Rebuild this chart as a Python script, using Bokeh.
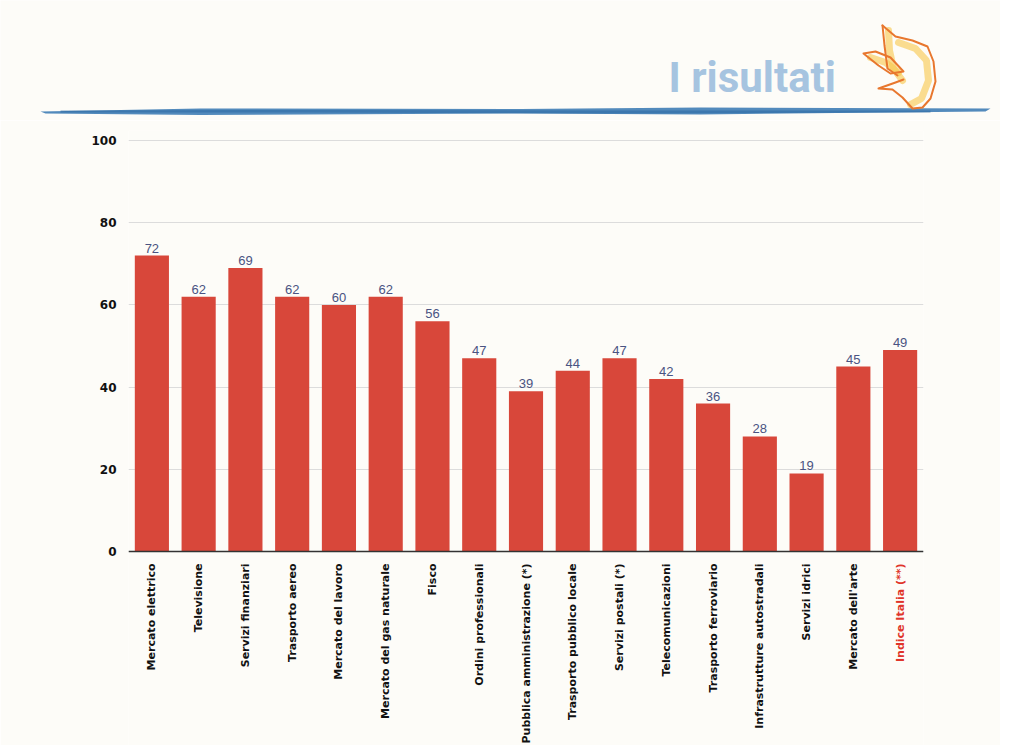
import math
from bokeh.plotting import figure
from bokeh.layouts import column
from bokeh.models import ColumnDataSource, LabelSet, Range1d, FactorRange, Span
from bokeh.core.properties import value
from bokeh.embed import file_html
from bokeh.resources import INLINE

categories = ["Mercato elettrico", "Televisione", "Servizi finanziari", "Trasporto aereo",
              "Mercato del lavoro", "Mercato del gas naturale", "Fisco", "Ordini professionali",
              "Pubblica amministrazione (*)", "Trasporto pubblico locale", "Servizi postali (*)",
              "Telecomunicazioni", "Trasporto ferroviario", "Infrastrutture autostradali",
              "Servizi idrici", "Mercato dell'arte", "Indice Italia (**)"]
values = [72, 62, 69, 62, 60, 62, 56, 47, 39, 44, 47, 42, 36, 28, 19, 45, 49]
label_colors = ["#111111"] * 16 + ["#e0342a"]
y_ticks = [0, 20, 40, 60, 80, 100]
title_text = "I risultati"

BG = "#fdfcf8"
W = 1000
HEAD_H = 120          # header strip (title, brush stroke, icon)
MAIN_H = 625          # chart
LEFT, FW = 128, 795
PPU = 4.11            # pixels per unit
TOP_PAD = 10          # pixels between frame top and the 100 line
Y0_PAGE = 551 - HEAD_H  # y of value 0 inside the chart canvas
YMAX = 100 + TOP_PAD / PPU
FRAME_TOP = Y0_PAGE - round(100 * PPU) - TOP_PAD
YMIN = -(MAIN_H - Y0_PAGE) / PPU

# ---------------- header ----------------
h = figure(width=W, height=HEAD_H, x_range=Range1d(0, W), y_range=Range1d(HEAD_H, 0),
           output_backend="svg", toolbar_location=None, min_border=0,
           x_axis_type=None, y_axis_type=None)
h.frame_align = False
h.background_fill_color = BG
h.border_fill_color = BG
h.outline_line_color = None
h.grid.visible = False

h.text(x=[668], y=[77], text=[title_text],
       text_font=value("Roboto"),
       text_font_style="bold", text_font_size="42px", text_color="#a6c4e0",
       text_baseline="middle", text_align="left")
# brush stroke
h.patch(x=[40, 200, 520, 700, 990, 985, 700, 520, 200, 45],
        y=[111, 108, 108.5, 107, 108, 111, 114, 113, 114.5, 113],
        fill_color="#3f7db5", fill_alpha=0.9, line_color=None)
h.patch(x=[60, 300, 600, 930, 930, 600, 300, 60],
        y=[110, 109.5, 110, 110, 112, 113, 112, 112],
        fill_color="#2f6aa3", fill_alpha=0.6, line_color=None)
# flame / dove icon: yellow wash, then orange outline strokes
h.multi_line(xs=[[888, 889, 893, 902], [898, 915, 926, 928, 921, 910], [870, 885, 898]],
             ys=[[30, 50, 68, 80], [42, 48, 60, 80, 98, 104], [57, 62, 72]],
             line_color="#f8c64a", line_alpha=0.6, line_width=7, line_cap="round")
h.multi_line(
    xs=[[882, 895, 912, 927, 933, 935, 930, 922, 912, 902, 892, 878, 895, 903],
        [882, 884, 887, 897],
        [903, 890, 875, 863, 878, 890, 903]],
    ys=[[25, 36, 40, 46, 61, 81, 98, 107, 108, 97, 89, 88, 82, 79],
        [25, 45, 68, 75],
        [71, 57, 51, 53, 65, 73, 71]],
    line_color="#e8772e", line_width=2, line_join="round", line_cap="round")

# ---------------- chart ----------------
p = figure(x_range=FactorRange(*categories), y_range=Range1d(YMIN, YMAX),
           width=W, height=MAIN_H, output_backend="svg", toolbar_location=None,
           min_border_left=LEFT, min_border_top=FRAME_TOP,
           min_border_right=W - LEFT - FW, min_border_bottom=0)
p.frame_align = False
p.background_fill_color = BG
p.border_fill_color = BG
p.outline_line_color = None

src = ColumnDataSource(dict(cat=categories, val=values, txt=[str(v) for v in values],
                            lc=label_colors))
p.vbar(x="cat", top="val", bottom=0, width=0.73, source=src,
       fill_color="#d8473a", line_color=None)

p.xaxis.visible = False
p.xgrid.grid_line_color = None
p.ygrid.grid_line_color = "#dcdcdc"
p.ygrid.grid_line_width = 1
p.yaxis.ticker = y_ticks
p.yaxis.axis_line_color = None
p.yaxis.major_tick_line_color = None
p.yaxis.minor_tick_line_color = None
p.yaxis.major_label_text_font = "DejaVu Sans"
p.yaxis.major_label_text_font_style = "bold"
p.yaxis.major_label_text_font_size = "12px"
p.yaxis.major_label_text_color = "#111111"
p.yaxis.major_label_standoff = 6

# baseline (x axis line)
p.add_layout(Span(location=0, dimension="width", line_color="#333333", line_width=1.5))

# value labels
p.add_layout(LabelSet(x="cat", y="val", text="txt", source=src, y_offset=3,
                      text_align="center", text_baseline="bottom",
                      text_font=value("Liberation Sans"), text_font_size="13px",
                      text_color="#4a5382"))

# category labels, rotated, below the baseline
p.text(x="cat", y=-12 / PPU, text="cat", source=src, angle=math.pi / 2,
       text_align="right", text_baseline="middle",
       text_font=value("DejaVu Sans"), text_font_style="bold",
       text_font_size="11px", text_color="lc")

layout = column(h, p, spacing=0)
open("out.html", "w").write(file_html(layout, INLINE))
